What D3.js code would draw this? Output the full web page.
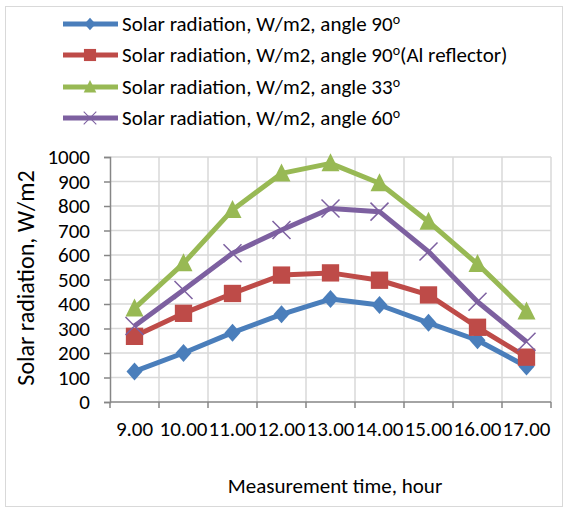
<!DOCTYPE html>
<html>
<head>
<meta charset="utf-8">
<script src="https://cdn.jsdelivr.net/npm/d3@7"></script>
<style>
body{margin:0;background:#fff;}
text{font-family:Carlito,Calibri,Lato,sans-serif;fill:#000;}
</style>
</head>
<body>
<div class="container"></div>
<script>
var hours = ["9.00","10.00","11.00","12.00","13.00","14.00","15.00","16.00","17.00"];
var angle90 = [125,200,283,358,420,396,323,252,145];
var angle90Al = [268,362,443,518,527,497,437,305,183];
var angle33 = [382,566,784,933,974,893,736,563,369];
var angle60 = [310,457,607,702,790,777,614,409,246];
var yTicks = [0,100,200,300,400,500,600,700,800,900,1000];
var seriesNames = ["Solar radiation, W/m2, angle 90","Solar radiation, W/m2, angle 90","Solar radiation, W/m2, angle 33","Solar radiation, W/m2, angle 60"];
var seriesTails = ["","(Al reflector)","",""];

var loadChart = function(){
    var width = 565, height = 511;
    var left = 110, right = 551, top = 157, bottom = 402;
    var colors = ["#4a7ebb","#be4b48","#98b954","#7d60a0"];
    var shapes = ["diamond","square","triangle","cross"];
    var series = [angle90, angle90Al, angle33, angle60];

    var svg = d3.select('.container')
                .append('svg')
                .attr('width',width)
                .attr('height',height);

    svg.append('rect')
        .attr('x',5.5).attr('y',6.5)
        .attr('width',557).attr('height',500)
        .attr('fill','none').attr('stroke','#d9d9d9');

    var x = d3.scaleBand().domain(hours).range([left,right]);
    var y = d3.scaleLinear().domain([0,1000]).range([bottom,top]);

    // grid
    svg.selectAll('.hgrid').data(yTicks.slice(1)).enter().append('line')
        .attr('x1',left).attr('x2',right)
        .attr('y1',function(d){return y(d);}).attr('y2',function(d){return y(d);})
        .attr('stroke','#d9d9d9').attr('stroke-width',1.5);
    var bounds = hours.map(function(h){return x(h);}).concat([right]);
    svg.selectAll('.vgrid').data(bounds.slice(1)).enter().append('line')
        .attr('x1',function(d){return d;}).attr('x2',function(d){return d;})
        .attr('y1',top).attr('y2',bottom)
        .attr('stroke','#d9d9d9').attr('stroke-width',1.5);

    // axes
    var yAxis = d3.axisLeft(y).tickValues(yTicks).tickFormat(d3.format('d')).tickSize(6).tickPadding(14);
    var gy = svg.append('g').attr('transform','translate('+left+',0)').call(yAxis);
    gy.select('.domain').attr('stroke','#868686').attr('stroke-width',1.5);
    gy.selectAll('.tick line').attr('stroke','#868686').attr('stroke-width',1.5);
    gy.selectAll('text').style('font-size','21px').style('font-family','Carlito,Calibri,Lato,sans-serif');

    var gx = svg.append('g').attr('transform','translate(0,'+bottom+')');
    gx.append('line').attr('x1',left).attr('x2',right).attr('stroke','#868686').attr('stroke-width',1.5);
    gx.selectAll('.xt').data(bounds).enter().append('line')
        .attr('x1',function(d){return d;}).attr('x2',function(d){return d;})
        .attr('y1',0).attr('y2',6).attr('stroke','#868686').attr('stroke-width',1.5);
    gx.selectAll('.xl').data(hours).enter().append('text')
        .attr('x',function(d){return x(d)+x.bandwidth()/2;})
        .attr('y',34)
        .attr('text-anchor','middle')
        .style('font-size','21px')
        .text(function(d){return d;});

    svg.append('text')
        .attr('transform','translate(34,278) rotate(-90)')
        .attr('text-anchor','middle')
        .style('font-size','24px')
        .text('Solar radiation, W/m2');
    svg.append('text')
        .attr('x',335).attr('y',493)
        .attr('text-anchor','middle')
        .style('font-size','21px')
        .text('Measurement time, hour');

    var symbolPath = function(shape){
        if(shape==='diamond') return 'M0,-9L8,0L0,9L-8,0Z';
        if(shape==='square') return d3.symbol().type(d3.symbolSquare).size(300)();
        if(shape==='triangle') return 'M0,-10L9,8L-9,8Z';
        return 'M-9,-9L9,9M-9,9L9,-9';
    };

    var line = d3.line()
        .x(function(d,i){return x(hours[i])+x.bandwidth()/2;})
        .y(function(d){return y(d);});

    series.forEach(function(s,k){
        var g = svg.append('g');
        g.append('path').datum(s)
            .attr('d',line).attr('fill','none')
            .attr('stroke',colors[k]).attr('stroke-width',5)
            .attr('stroke-linejoin','round');
        g.selectAll('.m').data(s).enter().append('path')
            .attr('transform',function(d,i){return 'translate('+(x(hours[i])+x.bandwidth()/2)+','+y(d)+')';})
            .attr('d',symbolPath(shapes[k]))
            .attr('fill',shapes[k]==='cross'?'none':colors[k])
            .attr('stroke',colors[k])
            .attr('stroke-width',shapes[k]==='cross'?1.5:0);
    });

    // legend
    var rows = [24,55,87,118];
    series.forEach(function(s,k){
        var g = svg.append('g').attr('transform','translate(0,'+rows[k]+')');
        g.append('line').attr('x1',63).attr('x2',118).attr('y1',0).attr('y2',0)
            .attr('stroke',colors[k]).attr('stroke-width',5);
        var m = shapes[k];
        g.append('path').attr('transform','translate(90,0) scale(0.7)')
            .attr('d',symbolPath(m))
            .attr('fill',m==='cross'?'none':colors[k])
            .attr('stroke',colors[k]).attr('stroke-width',m==='cross'?1.5:0);
        var t = g.append('text').attr('x',122).attr('y',7).style('font-size','21px');
        t.append('tspan').text(seriesNames[k]);
        t.append('tspan').attr('dy',-7).style('font-size','14px').text('o');
        t.append('tspan').attr('dy',7).text(seriesTails[k]);
    });
};
window.onload = loadChart;
</script>
</body>
</html>
